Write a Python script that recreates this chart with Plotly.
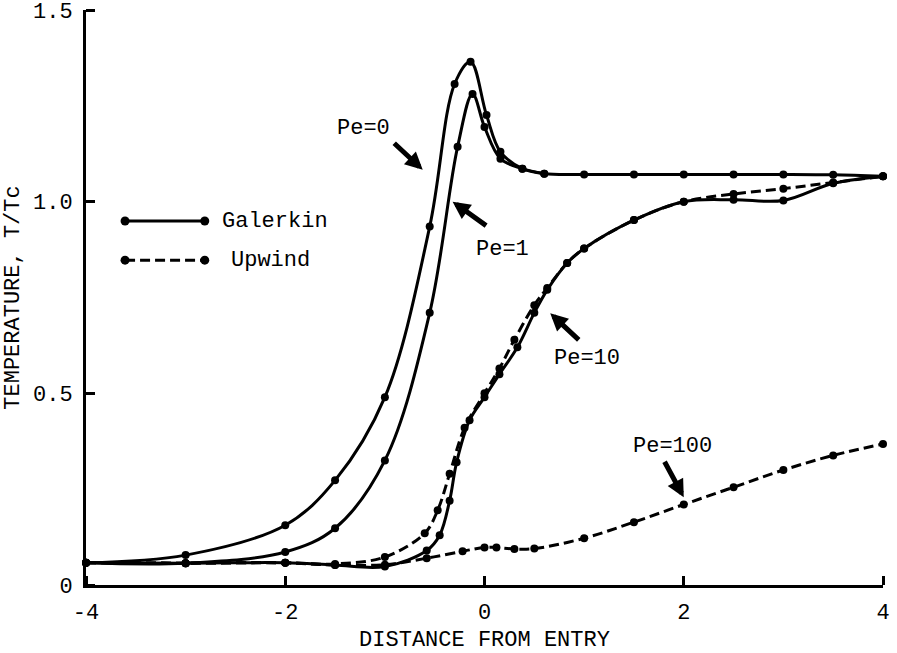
import plotly.graph_objects as go

# ---------------- data ----------------
pe0_x = [-4, -3, -2, -1.5, -1.0, -0.55, -0.3, -0.14, 0.02, 0.16, 0.38, 0.6, 1.0, 1.5, 2.0, 2.5, 3.0, 3.5, 4.0]
pe0_y = [0.058, 0.078, 0.156, 0.273, 0.49, 0.935, 1.307, 1.365, 1.226, 1.13, 1.086, 1.073, 1.071, 1.071, 1.071, 1.071, 1.071, 1.07, 1.066]

pe1_x = [-4, -3, -2, -1.5, -1.0, -0.55, -0.27, -0.12, 0.0, 0.16, 0.38, 0.6]
pe1_y = [0.058, 0.057, 0.086, 0.148, 0.325, 0.71, 1.143, 1.281, 1.195, 1.112, 1.086, 1.073]

pe10_gal_x = [-4, -3, -2, -1.5, -1.0, -0.58, -0.45, -0.35, -0.28, -0.15, 0.0, 0.15, 0.33, 0.5, 0.63, 0.83, 1.0, 1.5, 2.0, 2.5, 3.0, 3.5, 4.0]
pe10_gal_y = [0.058, 0.057, 0.058, 0.052, 0.048, 0.09, 0.13, 0.22, 0.32, 0.43, 0.49, 0.55, 0.62, 0.71, 0.77, 0.84, 0.878, 0.952, 1.0, 1.005, 1.003, 1.048, 1.066]

pe10_upw_x = [-4, -3, -2, -1.5, -1.0, -0.6, -0.47, -0.35, -0.2, 0.0, 0.15, 0.3, 0.5, 0.63, 0.83, 1.0, 1.5, 2.0, 2.5, 3.0, 3.5, 4.0]
pe10_upw_y = [0.058, 0.057, 0.058, 0.055, 0.073, 0.135, 0.195, 0.29, 0.41, 0.5, 0.565, 0.64, 0.73, 0.775, 0.84, 0.878, 0.952, 1.0, 1.02, 1.034, 1.05, 1.066]

pe100_upw_x = [-4, -3, -2, -1.5, -1.0, -0.58, -0.22, 0.0, 0.12, 0.3, 0.5, 1.0, 1.5, 2.0, 2.5, 3.0, 3.5, 4.0]
pe100_upw_y = [0.058, 0.057, 0.058, 0.052, 0.053, 0.07, 0.088, 0.098, 0.098, 0.094, 0.095, 0.122, 0.164, 0.21, 0.255, 0.30, 0.338, 0.368]

x_ticks = [-4, -2, 0, 2, 4]
x_ticktext = ["-4", "-2", "0", "2", "4"]
y_ticks = [0, 0.5, 1.0, 1.5]
y_ticktext = ["0", "0.5", "1.0", "1.5"]

# labels: (text, text_x, text_y, arrow_head_x, arrow_head_y, ax, ay)
labels = [
    ("Pe=0", -1.21, 1.192, -0.62, 1.083, -30, -28),
    ("Pe=1", 0.18, 0.875, -0.32, 1.0, 35, 25),
    ("Pe=10", 1.03, 0.59, 0.66, 0.709, 30, 28),
    ("Pe=100", 1.89, 0.361, 2.0, 0.229, -20, -37),
]

# legend keys (paper fractions of the plot area)
legend_names = ["Galerkin", "Upwind"]
legend_dash = ["solid", "10px,5px"]
legend_key_x = [0.049, 0.149]
legend_key_y = [0.633, 0.565]
legend_text_x = [0.168, 0.18]

FONT = "Liberation Mono, Courier New, monospace"
FS = 22
W, H = 897, 653
ML, MR, MT, MB = 86, 14, 10, 68
PW, PH = W - ML - MR, H - MT - MB

fig = go.Figure()

def add_curve(x, y, dash):
    fig.add_trace(go.Scatter(
        x=x, y=y, mode="lines+markers",
        line=dict(color="black", width=3, shape="spline", smoothing=1.0, dash=dash),
        marker=dict(color="black", size=8),
        showlegend=False, cliponaxis=False, hoverinfo="skip"))

add_curve(pe0_x, pe0_y, "solid")
add_curve(pe1_x, pe1_y, "solid")
add_curve(pe10_gal_x, pe10_gal_y, "solid")
add_curve(pe10_upw_x, pe10_upw_y, "10px,5px")
add_curve(pe100_upw_x, pe100_upw_y, "10px,5px")

# legend samples drawn as shapes
rx, ry = 4.5 / PW, 4.5 / PH
for i, name in enumerate(legend_names):
    yk = legend_key_y[i]
    fig.add_shape(type="line", xref="paper", yref="paper",
                  x0=legend_key_x[0], x1=legend_key_x[1], y0=yk, y1=yk,
                  line=dict(color="black", width=3, dash=legend_dash[i]))
    for xk in legend_key_x:
        fig.add_shape(type="circle", xref="paper", yref="paper",
                      x0=xk - rx, x1=xk + rx, y0=yk - ry, y1=yk + ry,
                      fillcolor="black", line=dict(color="black", width=0))
    fig.add_annotation(x=legend_text_x[i], y=yk, xref="paper", yref="paper",
                       text=name, showarrow=False, xanchor="left", yanchor="middle",
                       font=dict(family=FONT, size=FS, color="black"))

for txt, tx, ty, hx, hy, ax, ay in labels:
    fig.add_annotation(x=tx, y=ty, text=txt, showarrow=False,
                       font=dict(family=FONT, size=FS, color="black"))
    fig.add_annotation(x=hx, y=hy, text="", showarrow=True, ax=ax, ay=ay,
                       arrowhead=2, arrowsize=0.7, arrowwidth=5, arrowcolor="black")

fig.update_layout(
    width=W, height=H,
    margin=dict(l=ML, r=MR, t=MT, b=MB, autoexpand=False),
    paper_bgcolor="white", plot_bgcolor="white",
    font=dict(family=FONT, size=FS, color="black"),
    xaxis=dict(range=[-4, 4], tickmode="array", tickvals=x_ticks, ticktext=x_ticktext,
               ticks="outside", ticklen=5, tickwidth=1, tickcolor="rgba(0,0,0,0)",
               minor=dict(tickmode="array", tickvals=x_ticks, ticks="inside",
                          ticklen=9, tickwidth=3, tickcolor="black", showgrid=False),
               showline=True, linewidth=3, linecolor="black",
               showgrid=False, zeroline=False, automargin=False,
               ticklabeloverflow="allow",
               title=dict(text="DISTANCE FROM ENTRY", standoff=18,
                          font=dict(family=FONT, size=FS))),
    yaxis=dict(range=[0, 1.5], tickmode="array", tickvals=y_ticks, ticktext=y_ticktext,
               ticks="outside", ticklen=6, tickwidth=1, tickcolor="rgba(0,0,0,0)",
               minor=dict(tickmode="array", tickvals=y_ticks, ticks="inside",
                          ticklen=9, tickwidth=3, tickcolor="black", showgrid=False),
               showline=True, linewidth=3, linecolor="black",
               showgrid=False, zeroline=False, automargin=False,
               ticklabeloverflow="allow",
               title=dict(text="TEMPERATURE, T/Tc", standoff=8,
                          font=dict(family=FONT, size=FS))),
)

fig.write_html("out.html")
